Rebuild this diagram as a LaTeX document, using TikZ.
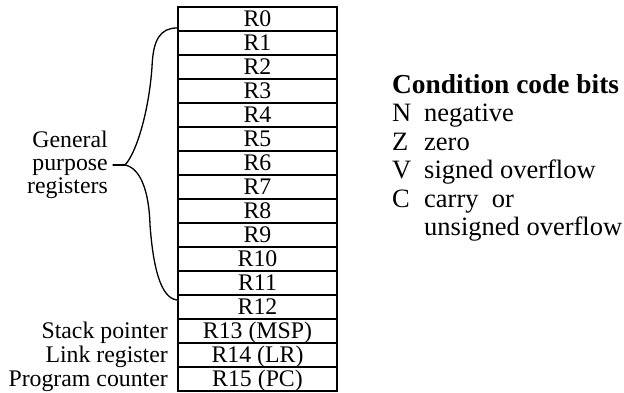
\documentclass[tikz,border=0pt]{standalone}
\usepackage{fontspec}
\setmainfont{Liberation Serif}
\begin{document}
\begin{tikzpicture}[x=1pt,y=-1pt,
  reg/.style={draw, line width=1.5pt, minimum width=159pt, minimum height=24pt,
    inner sep=0pt, text height=17.5pt, text depth=3.5pt,
    font=\fontsize{23.8}{24}\selectfont},
  lbl/.style={anchor=base east, inner sep=0pt, font=\fontsize{23.8}{24}\selectfont},
  cc/.style={anchor=base west, inner sep=0pt, font=\fontsize{26.5}{28}\selectfont},
  bracel/.style={line width=1.3pt, line cap=round, line join=round}]
\useasboundingbox (0,0) rectangle (624,392);
% registers
\foreach \i/\t in {0/R0,1/R1,2/R2,3/R3,4/R4,5/R5,6/R6,7/R7,8/R8,9/R9,10/R10,11/R11,12/R12,13/R13 (MSP),14/R14 (LR),15/R15 (PC)}{
  \node[reg] (r\i) at (257.5,{19+24*\i}) {\t};
}
% left labels
\node[lbl] (sp) at (168,338) {Stack pointer};
\node[lbl] (lr) at (168,362) {Link register};
\node[lbl] (pc) at (168,386) {Program counter};
\node[anchor=east, inner sep=0pt, align=right, font=\fontsize{23.8}{23}\selectfont] (gp) at (108,165) {General\\purpose\\registers};
% brace
\coordinate (btop) at (177,28);
\coordinate (bbot) at (177,300);
\coordinate (tip) at (125,165);
\draw[bracel] (btop) .. controls (160,28) and (153,40) .. (152,67)
  .. controls (149,110) and (137,152) .. (tip)
  .. controls (140,168) and (149,190) .. (150,225)
  .. controls (153,265) and (160,298) .. (bbot);
\draw[bracel] (tip) -- (113,165);
% condition codes
\node[cc, font=\fontsize{27.4}{28}\selectfont\bfseries] (title) at (392,93) {Condition code bits};
\node[cc] (n) at (392,121.5) {N};
\node[cc] (nt) at (424,121.5) {negative};
\node[cc] (z) at (392,150) {Z};
\node[cc] (zt) at (424,150) {zero};
\node[cc] (v) at (392,178.5) {V};
\node[cc] (vt) at (424,178.5) {signed overflow};
\node[cc] (c) at (392,207) {C};
\node[cc] (ct) at (424,207) {carry~~or};
\node[cc] (ct2) at (424,235.5) {unsigned overflow};
\end{tikzpicture}
\end{document}
